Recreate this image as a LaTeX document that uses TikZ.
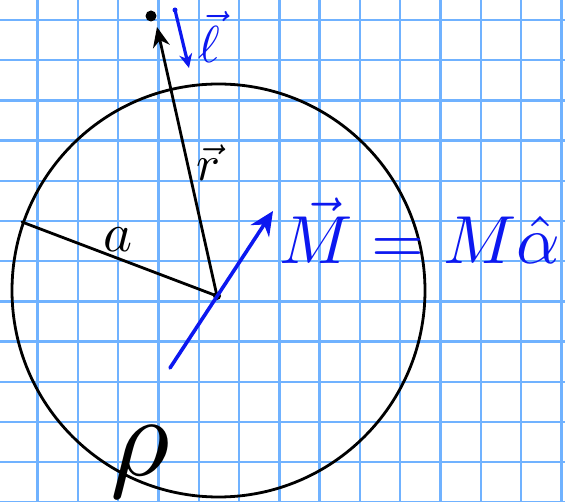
\documentclass[tikz,border=0pt]{standalone}
\usepackage{amsmath, amssymb}
\usepackage{tikz}
\usetikzlibrary{arrows.meta}
\usepackage{xcolor}
\definecolor{gridblue}{RGB}{112,178,255}
\definecolor{ink}{RGB}{12,24,240}

\begin{document}
\begin{tikzpicture}[x=1pt, y=-1pt, >=Stealth, line cap=round]
  \useasboundingbox (0,0) rectangle (565,502);
  \fill[white] (0,0) rectangle (565,502);

  % Grid paper
  \foreach \k in {0,...,13}
    \draw[gridblue, line width=2.4pt] ({37.5+40.3*\k},0) -- ({37.5+40.3*\k},502);
  \foreach \k in {0,...,12}
    \draw[gridblue, line width=2.4pt] (0,{20+40.2*\k}) -- (565,{20+40.2*\k});

  % Coordinates
  \coordinate (C) at (218.5,290.5);
  \coordinate (O) at (217,296);
  \coordinate (A_L) at (22,222);
  \coordinate (P) at (151,16);
  \coordinate (R_tip) at (157,27);
  \coordinate (L_top) at (175,10);
  \coordinate (L_bot) at (189,68);
  \coordinate (M_tail) at (170,368);
  \coordinate (M_tip) at (273,211);

  % Draw the sphere
  \draw[line width=2.8pt] (C) circle[radius=206.5pt];

  % Radius a and vector r
  \draw[line width=2.8pt] (O) -- (A_L);
  \draw[line width=2.8pt, -{Stealth[length=20pt, width=17pt]}] (O) -- (R_tip);
  \fill (P) circle[radius=5.5pt];
  \fill (O) circle[radius=4pt];

  % Blue arrows
  \draw[ink, line width=3.2pt, -{Stealth[length=14pt, width=13pt]}] (L_top) -- (L_bot);
  \fill[ink] (L_top) circle[radius=2.5pt];
  \draw[ink, line width=3.6pt, -{Stealth[length=24pt, width=22pt]}] (M_tail) -- (M_tip);

  % Labels
  \node[scale=5.5] (a_lbl) at (118,240) {$a$};
  \node[scale=5] (r_lbl) at (208,163) {$\vec{r}$};
  \node[scale=5.2, ink] (l_lbl) at (209,37) {$\vec{\ell}$};
  \node[scale=6.8, ink] (M_lbl) at (420,231) {$\vec{M} = M\hat{\alpha}$};
  \node[scale=11.5] (rho_lbl) at (140,462) {$\rho$};
\end{tikzpicture}
\end{document}
